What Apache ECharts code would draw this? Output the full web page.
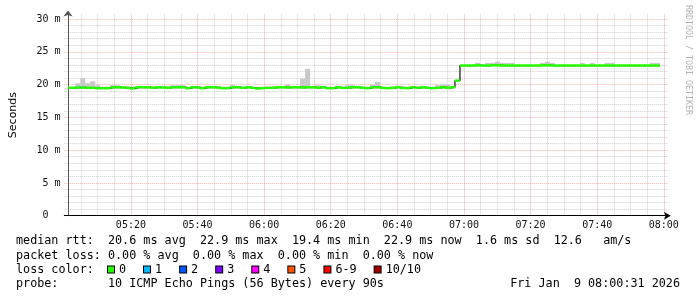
<!DOCTYPE html>
<html>
<head>
<meta charset="utf-8">
<script src="https://cdn.jsdelivr.net/npm/echarts@6/dist/echarts.min.js"></script>
<style>
html,body{margin:0;padding:0;background:#fff;}
#chart{width:697px;height:297px;}
</style>
</head>
<body>
<div id="chart"></div>
<script>
// ---- data (minutes after 05:00; one value per 90 s step) ----
const plotStartMin = 1.1;     // left edge of the plotted period
const firstStepMin = 0.3;     // start of first 90 s step
const stepMin = 1.5;

const medianRtt = [
  19.5,19.5,19.55,19.55,19.5,19.5,19.45,19.45,19.45,19.6,
  19.6,19.55,19.5,19.4,19.6,19.6,19.6,19.5,19.6,19.55,
  19.5,19.6,19.6,19.6,19.45,19.6,19.55,19.45,19.6,19.6,
  19.55,19.45,19.45,19.6,19.6,19.5,19.6,19.5,19.4,19.45,
  19.5,19.5,19.6,19.6,19.55,19.6,19.6,19.55,19.6,19.6,
  19.5,19.6,19.45,19.45,19.6,19.5,19.5,19.6,19.6,19.5,
  19.45,19.6,19.6,19.5,19.45,19.5,19.6,19.5,19.45,19.6,
  19.5,19.6,19.5,19.45,19.5,19.6,19.5,19.6,20.6,22.9,
  22.9,22.9,22.95,22.9,22.9,22.95,22.95,22.9,22.9,22.9,
  22.9,22.9,22.9,22.9,22.9,22.95,22.95,22.9,22.9,22.9,
  22.9,22.9,22.9,22.9,22.9,22.9,22.9,22.9,22.9,22.9,
  22.9,22.9,22.9,22.9,22.9,22.9,22.9,22.9,22.9
];
const smokeHi = [
  19.65,19.65,20.2,21.0,20.2,20.5,19.9,19.65,19.65,19.9,
  19.9,19.65,19.65,19.65,19.65,19.65,19.65,19.65,19.65,19.65,
  19.65,19.9,19.9,19.9,19.65,19.65,19.65,19.65,19.8,19.65,
  19.65,19.65,19.65,19.9,19.65,19.65,19.65,19.65,19.65,19.65,
  19.65,19.65,19.65,19.65,20.0,19.65,19.65,20.9,22.4,19.65,
  19.9,19.65,19.65,19.65,19.65,19.65,19.9,19.9,19.65,19.65,
  19.65,20.0,20.4,19.65,19.65,19.65,19.65,19.65,19.65,19.65,
  19.65,19.65,19.65,19.65,19.9,20.0,20.0,19.65,20.7,23.05,
  23.05,23.05,23.3,23.05,23.3,23.3,23.5,23.3,23.3,23.3,
  23.05,23.05,23.05,23.05,23.05,23.3,23.5,23.3,23.05,23.05,
  23.05,23.05,23.05,23.3,23.05,23.3,23.05,23.05,23.3,23.3,
  23.05,23.05,23.05,23.05,23.05,23.05,23.05,23.3,23.3
];
const smokeLo = [
  19.35,19.35,19.35,19.35,19.35,19.35,19.35,19.35,19.35,19.35,
  19.35,19.35,19.35,19.35,19.35,19.35,19.35,19.35,19.35,19.35,
  19.35,19.35,19.35,19.35,19.35,19.35,19.35,19.35,19.35,19.35,
  19.35,19.35,19.35,19.35,19.35,19.35,19.35,19.35,19.35,19.35,
  19.35,19.35,19.35,19.35,19.35,19.35,19.35,19.35,19.35,19.35,
  19.35,19.35,19.35,19.35,19.35,19.35,19.35,19.35,19.35,19.35,
  19.35,19.35,19.35,19.35,19.35,19.35,19.35,19.35,19.35,19.35,
  19.35,19.35,19.35,19.35,19.35,19.35,19.35,19.35,20.45,22.75,
  22.75,22.75,22.75,22.75,22.75,22.75,22.75,22.75,22.75,22.75,
  22.75,22.75,22.75,22.75,22.75,22.75,22.75,22.75,22.75,22.75,
  22.75,22.75,22.75,22.75,22.75,22.75,22.75,22.75,22.75,22.75,
  22.75,22.75,22.75,22.75,22.75,22.75,22.75,22.75,22.75
];

const lossLabels = ['0','1','2','3','4','5','6-9','10/10'];
const lossColors = ['#26ff00','#00b8ff','#0059ff','#7e00ff','#ff00ff','#ff5500','#ff0000','#a10000'];

const statsLine = 'median rtt:  20.6 ms avg  22.9 ms max  19.4 ms min  22.9 ms now  1.6 ms sd  12.6   am/s';
const lossLine  = 'packet loss: 0.00 % avg  0.00 % max  0.00 % min  0.00 % now';
const probeLine = 'probe:       10 ICMP Echo Pings (56 Bytes) every 90s';
const dateLine  = 'Fri Jan  9 08:00:31 2026';
const yTitle = 'Seconds';
const watermark = 'RRDTOOL / TOBI OETIKER';

// ---- build ----
const t0 = i => Math.max(plotStartMin, firstStepMin + i * stepMin);
const t1 = i => firstStepMin + (i + 1) * stepMin;

const stepData = medianRtt.map((m, i) => [t0(i), t1(i), m]);
const smokeData = medianRtt.map((m, i) => [t0(i), t1(i), smokeLo[i], smokeHi[i]]);
const lineData = medianRtt.map((m, i) => [t0(i), m]);
lineData.push([t1(medianRtt.length - 1), medianRtt[medianRtt.length - 1]]);

const mono = '"DejaVu Sans Mono", monospace';
const minorC = 'rgba(140,140,140,0.42)';
const majorC = 'rgba(215,80,80,0.45)';

function fmtTime(v) {
  const h = 5 + Math.floor(v / 60), m = v % 60;
  return String(h).padStart(2, '0') + ':' + String(m).padStart(2, '0');
}

const rich = {
  t: { font: '11.75px ' + mono, fill: '#000', color: '#000', padding: [0, 18, 0, 5] }
};
let lossText = 'loss color:  ';
lossLabels.forEach((l, k) => {
  rich['b' + k] = { width: 6, height: 6, backgroundColor: lossColors[k], borderColor: '#000', borderWidth: 1 };
  lossText += '{b' + k + '|}{t|' + l + '}';
});

const chart = echarts.init(document.getElementById('chart'), null, { renderer: 'canvas' });
chart.setOption({
  animation: false,
  backgroundColor: '#fff',
  grid: { left: 63.3, right: 29.2, top: 14.4, bottom: 81.3 },
  xAxis: {
    type: 'value', min: 0, max: 181.2, interval: 5,
    axisLine: { lineStyle: { color: '#000', width: 1 }, symbol: ['none', 'arrow'], symbolSize: [6, 7], symbolOffset: [0, 3] },
    axisTick: { show: false },
    axisLabel: {
      margin: 5, fontFamily: mono, fontSize: 10, color: '#111',
      formatter: v => (v > 0 && v <= 180 && v % 20 === 0) ? fmtTime(v) : ''
    },
    splitLine: { show: true, showMinLine: false, showMaxLine: false,
      lineStyle: { color: [minorC, minorC, minorC, majorC], type: [1, 1], width: 1 } }
  },
  yAxis: {
    type: 'value', min: 0, max: 30.7, interval: 1, offset: -3.7,
    name: yTitle, nameLocation: 'middle', nameGap: 49,
    nameTextStyle: { fontFamily: '"DejaVu Sans", sans-serif', fontSize: 11, color: '#000' },
    axisLine: { lineStyle: { color: '#555', width: 1 }, symbol: ['none', 'arrow'], symbolSize: [7, 6], symbolOffset: [0, 4] },
    axisTick: { show: false },
    axisLabel: {
      margin: 7.5, fontFamily: mono, fontSize: 10, color: '#111',
      formatter: v => (v % 5 === 0 && v <= 30) ? (v === 0 ? '0  ' : v + ' m') : ''
    },
    splitLine: { show: true, showMinLine: false, showMaxLine: false,
      lineStyle: { color: [minorC, minorC, minorC, minorC, majorC], type: [1, 1], width: 1 } }
  },
  series: [
    {
      type: 'custom', name: 'smoke', z: 1, data: smokeData,
      encode: { x: [0, 1], y: [2, 3] },
      renderItem: (params, api) => {
        const a = api.coord([api.value(0), api.value(3)]);
        const b = api.coord([api.value(1), api.value(2)]);
        return { type: 'rect', shape: { x: a[0], y: a[1], width: b[0] - a[0], height: b[1] - a[1] },
                 style: { fill: '#c8c8c8' } };
      }
    },
    {
      type: 'line', name: 'median', z: 2, step: 'end', data: lineData,
      symbol: 'none', lineStyle: { color: '#202020', width: 1.3 }
    },
    {
      type: 'custom', name: 'loss0', z: 3, data: stepData,
      encode: { x: [0, 1], y: 2 },
      renderItem: (params, api) => {
        const a = api.coord([api.value(0), api.value(2)]);
        const b = api.coord([api.value(1), api.value(2)]);
        return { type: 'rect', shape: { x: a[0], y: a[1] - 1.25, width: b[0] - a[0], height: 2.5 },
                 style: { fill: lossColors[0] } };
      }
    }
  ],
  graphic: [
    { type: 'text', x: 16, y: 241, style: { text: statsLine, font: '11.75px ' + mono, fill: '#000', verticalAlign: 'middle' } },
    { type: 'text', x: 16, y: 255.5, style: { text: lossLine, font: '11.75px ' + mono, fill: '#000', verticalAlign: 'middle' } },
    { type: 'text', x: 16, y: 269.5, style: { text: lossText, font: '11.75px ' + mono, fill: '#000', verticalAlign: 'middle', rich: rich } },
    { type: 'text', x: 16, y: 283.5, style: { text: probeLine, font: '11.75px ' + mono, fill: '#000', verticalAlign: 'middle' } },
    { type: 'text', x: 680, y: 283.5, style: { text: dateLine, font: '11.75px ' + mono, fill: '#000', align: 'right', verticalAlign: 'middle' } },
    { type: 'text', x: 688, y: 60, rotation: -Math.PI / 2,
      style: { text: watermark, font: '8.3px ' + mono, fill: '#b4b4b4', align: 'center', verticalAlign: 'middle' } }
  ]
});
</script>
</body>
</html>
